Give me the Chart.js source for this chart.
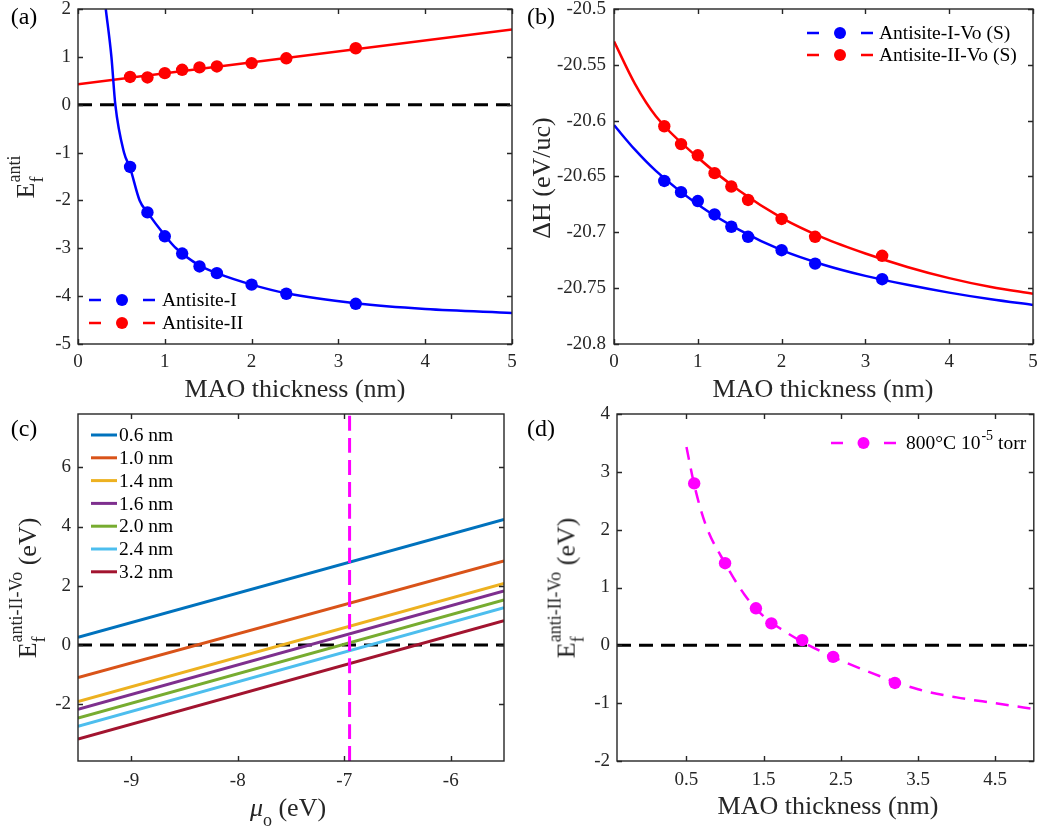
<!DOCTYPE html>
<html><head><meta charset="utf-8">
<script src="https://cdn.jsdelivr.net/npm/chart.js@4.4.0/dist/chart.umd.min.js"></script>
<style>
html,body{margin:0;padding:0;background:#fff;}
#wrap{position:relative;width:1040px;height:830px;overflow:hidden;background:#fff;}
canvas{position:absolute;left:0;top:0;}
.t{position:absolute;font-family:'Liberation Serif','Times New Roman',serif;color:#262626;white-space:nowrap;line-height:1;}
.yt{transform:translate(-50%,-50%) rotate(-90deg);font-size:26px;}
.xt{transform:translate(-50%,-50%);font-size:26px;}
.pl{font-size:24px;color:#000;transform:translate(-50%,-50%);}
.ss{display:inline-block;vertical-align:-0.5em;line-height:1.3;font-size:18px;}
.ss span{display:block;}
.mu{font-style:italic;}
.sb{font-size:18px;vertical-align:-0.55em;}
</style></head>
<body><div id="wrap">
<canvas id="ca" width="1040" height="830"></canvas>
<canvas id="cb" width="1040" height="830"></canvas>
<canvas id="cc" width="1040" height="830"></canvas>
<canvas id="cd" width="1040" height="830"></canvas>

<div class="t pl" style="left:24px;top:16px">(a)</div>
<div class="t pl" style="left:541px;top:16px">(b)</div>
<div class="t pl" style="left:24px;top:428px">(c)</div>
<div class="t pl" style="left:541px;top:428px">(d)</div>

<div class="t yt" style="left:26px;top:177px">E<span class="ss"><span>anti</span><span>f</span></span></div>
<div class="t yt" style="left:542px;top:178px">ΔH (eV/uc)</div>
<div class="t yt" style="left:28px;top:588px">E<span class="ss"><span>anti-II-Vo</span><span>f</span></span> (eV)</div>
<div class="t yt" style="left:567px;top:588px">E<span class="ss"><span>anti-II-Vo</span><span>f</span></span> (eV)</div>

<div class="t xt" style="left:295px;top:389px">MAO thickness (nm)</div>
<div class="t xt" style="left:823px;top:389px">MAO thickness (nm)</div>
<div class="t xt" style="left:288px;top:812px"><span class="mu">μ</span><span class="sb">o</span> (eV)</div>
<div class="t xt" style="left:828px;top:806px">MAO thickness (nm)</div>
</div>
<script>
// ---------------- data ----------------
const thickness = [0.6, 0.8, 1.0, 1.2, 1.4, 1.6, 2.0, 2.4, 3.2];
// panel (a)
const antisiteI  = [-1.30, -2.25, -2.75, -3.11, -3.38, -3.52, -3.76, -3.95, -4.16];
const antisiteII = [0.58, 0.57, 0.66, 0.73, 0.78, 0.80, 0.87, 0.97, 1.18];
const fitIx = [0.32, 0.385, 0.43, 0.53, 0.6, 0.71, 0.8, 1.0, 1.13, 1.4, 1.6, 2.0, 2.4, 3.2, 4.0, 5.0];
const fitIy = [2.0, 1.0, 0.0, -1.0, -1.32, -2.0, -2.25, -2.73, -3.0, -3.36, -3.52, -3.76, -3.94, -4.15, -4.27, -4.35];
const fitIIx = [0, 5];
const fitIIy = [0.43, 1.57];
// panel (b)
const dhI  = [-20.654, -20.664, -20.672, -20.684, -20.695, -20.704, -20.716, -20.728, -20.742];
const dhII = [-20.605, -20.621, -20.631, -20.647, -20.659, -20.671, -20.688, -20.704, -20.721];
const fitBx   = [0, 0.25, 0.5, 1, 1.5, 2, 2.5, 3, 3.5, 4, 4.5, 5];
const fitBIy  = [-20.604, -20.626, -20.645, -20.675, -20.698, -20.716, -20.729, -20.739, -20.747, -20.754, -20.760, -20.765];
const fitBIIy = [-20.529, -20.567, -20.596, -20.633, -20.663, -20.687, -20.705, -20.719, -20.731, -20.741, -20.749, -20.755];
// panel (c)
const muRange = [-9.5, -5.5];
const labelsC = ['0.6 nm', '1.0 nm', '1.4 nm', '1.6 nm', '2.0 nm', '2.4 nm', '3.2 nm'];
const efLeftC  = [0.26, -1.10, -1.91, -2.17, -2.47, -2.75, -3.18];
const efRightC = [4.24, 2.84, 2.08, 1.82, 1.52, 1.26, 0.82];
const colorsC = ['#0072BD', '#D95319', '#EDB120', '#7E2F8E', '#77AC30', '#4DBEEE', '#A2142F'];
const muO = -6.95;
// panel (d)
const thicknessD = [0.6, 1.0, 1.4, 1.6, 2.0, 2.4, 3.2];
const efD = [2.80, 1.42, 0.64, 0.38, 0.09, -0.20, -0.65];
const fitDx = [0.5, 0.6, 0.75, 1.0, 1.25, 1.5, 1.75, 2.0, 2.25, 2.5, 3.0, 3.5, 4.0, 4.5, 5.0];
const fitDy = [3.43, 2.78, 2.08, 1.42, 0.88, 0.50, 0.26, 0.06, -0.11, -0.26, -0.53, -0.76, -0.90, -1.00, -1.10];
// tick labels
const ticksAx = [0, 1, 2, 3, 4, 5];
const ticksAy = [-5, -4, -3, -2, -1, 0, 1, 2];
const ticksBy = [-20.8, -20.75, -20.7, -20.65, -20.6, -20.55, -20.5];
const ticksCx = [-9, -8, -7, -6];
const ticksCy = [-2, 0, 2, 4, 6];
const ticksDx = [0.5, 1.5, 2.5, 3.5, 4.5];
const ticksDy = [-2, -1, 0, 1, 2, 3, 4];
// legends
const legendA = ['Antisite-I', 'Antisite-II'];
const legendB = ['Antisite-I-Vo (S)', 'Antisite-II-Vo (S)'];
const legendD = [['800°C 10', {sup: '-5'}, ' torr']];

// ---------------- helpers ----------------
const F = "'Liberation Serif','Times New Roman',serif";
Chart.defaults.font.family = F;
const BLUE = '#0000FF', RED = '#FF0000', MAG = '#FF00FF';
const pts = (xs, ys) => xs.map((x, i) => ({x: x, y: ys[i]}));

function axis(min, max, ticks, fit, pad) {
  return {
    type: 'linear', min: min, max: max,
    grid: {display: false, drawTicks: false}, border: {display: false},
    ticks: {color: '#262626', font: {family: F, size: 19}, padding: pad, autoSkip: false, maxRotation: 0,
      callback: v => String(+(+v).toFixed(3))},
    afterBuildTicks: s => { s.ticks = ticks.map(v => ({value: v})); },
    afterFit: s => {
      if (s.isHorizontal()) s.height = fit; else s.width = fit;
      s.paddingLeft = 0; s.paddingRight = 0; s.paddingTop = 0; s.paddingBottom = 0;
    }
  };
}

const framePlugin = {
  id: 'frame',
  afterDraw(chart) {
    const ctx = chart.ctx, a = chart.chartArea, xs = chart.scales.x, ys = chart.scales.y;
    ctx.save();
    ctx.strokeStyle = '#262626'; ctx.lineWidth = 1.4; ctx.setLineDash([]);
    ctx.beginPath();
    const L = 5;
    xs.ticks.forEach(t => { const p = Math.round(xs.getPixelForValue(t.value)) + 0.5;
      ctx.moveTo(p, a.bottom); ctx.lineTo(p, a.bottom - L); ctx.moveTo(p, a.top); ctx.lineTo(p, a.top + L); });
    ys.ticks.forEach(t => { const p = Math.round(ys.getPixelForValue(t.value)) + 0.5;
      ctx.moveTo(a.left, p); ctx.lineTo(a.left + L, p); ctx.moveTo(a.right, p); ctx.lineTo(a.right - L, p); });
    ctx.stroke();
    ctx.strokeRect(a.left, a.top, a.right - a.left, a.bottom - a.top);
    ctx.restore();
  }
};

function makeLegend(cfg) {
  return {
    id: 'mlegend',
    afterDraw(chart) {
      const ctx = chart.ctx;
      ctx.save();
      cfg.items.forEach((it, i) => {
        const y = cfg.y + i * cfg.rowH, x0 = cfg.x, w = cfg.sampleW;
        ctx.strokeStyle = it.color; ctx.lineWidth = it.lw; ctx.setLineDash([]);
        ctx.beginPath();
        if (it.marker) {
          ctx.moveTo(x0, y); ctx.lineTo(x0 + cfg.dash, y);
          ctx.moveTo(x0 + w - cfg.dash, y); ctx.lineTo(x0 + w, y);
        } else { ctx.moveTo(x0, y); ctx.lineTo(x0 + w, y); }
        ctx.stroke();
        if (it.marker) {
          ctx.fillStyle = it.color; ctx.beginPath();
          ctx.arc(x0 + w / 2, y, 6, 0, 2 * Math.PI); ctx.fill();
        }
        let tx = x0 + w + cfg.gap;
        ctx.fillStyle = '#000'; ctx.textAlign = 'left'; ctx.textBaseline = 'middle';
        const segs = Array.isArray(it.text) ? it.text : [it.text];
        segs.forEach(sg => {
          if (typeof sg === 'string') {
            ctx.font = cfg.size + 'px ' + F; ctx.fillText(sg, tx, y + 1); tx += ctx.measureText(sg).width;
          } else {
            ctx.font = Math.round(cfg.size * 0.72) + 'px ' + F; ctx.fillText(sg.sup, tx + 1, y - 7); tx += ctx.measureText(sg.sup).width + 1;
          }
        });
      });
      ctx.restore();
    }
  };
}

function lineDs(xs, ys, color, width, dash, order) {
  return {type: 'scatter', data: pts(xs, ys), showLine: true, borderColor: color, backgroundColor: color,
    borderWidth: width, borderDash: dash || [], pointRadius: 0, pointHoverRadius: 0,
    cubicInterpolationMode: 'monotone', order: order};
}
function markDs(xs, ys, color, order) {
  return {type: 'scatter', data: pts(xs, ys), showLine: false, pointRadius: 6.2, pointHoverRadius: 6.2,
    pointBackgroundColor: color, pointBorderWidth: 0, backgroundColor: color, borderColor: color, order: order};
}
function make(id, datasets, pad, xAx, yAx, legend) {
  return new Chart(document.getElementById(id), {
    type: 'scatter',
    data: {datasets: datasets},
    options: {
      responsive: false, animation: false, events: [],
      layout: {padding: pad},
      plugins: {legend: {display: false}, tooltip: {enabled: false}},
      scales: {x: xAx, y: yAx}
    },
    plugins: [framePlugin, makeLegend(legend)]
  });
}

// ---------------- panel (a) ----------------
make('ca', [
  markDs(thickness, antisiteI, BLUE, 0),
  markDs(thickness, antisiteII, RED, 0),
  lineDs(fitIx, fitIy, BLUE, 2.5, [], 1),
  lineDs(fitIIx, fitIIy, RED, 2.5, [], 1),
  lineDs([0, 5], [0, 0], '#000', 3, [14, 8], 2)
], {left: 0, top: 9, right: 528, bottom: 430},
  axis(0, 5, ticksAx, 56, 7), axis(-5, 2, ticksAy, 78, 7),
  {x: 89, y: 300, rowH: 23, sampleW: 66, dash: 12, gap: 7, size: 19.5,
   items: [{text: legendA[0], color: BLUE, lw: 2.5, marker: true}, {text: legendA[1], color: RED, lw: 2.5, marker: true}]});

// ---------------- panel (b) ----------------
make('cb', [
  markDs(thickness, dhI, BLUE, 0),
  markDs(thickness, dhII, RED, 0),
  lineDs(fitBx, fitBIy, BLUE, 2.5, [], 1),
  lineDs(fitBx, fitBIIy, RED, 2.5, [], 1)
], {left: 520, top: 9, right: 7, bottom: 430},
  axis(0, 5, ticksAx, 56, 7), axis(-20.8, -20.5, ticksBy, 94, 8),
  {x: 807, y: 33, rowH: 22, sampleW: 66, dash: 12, gap: 6, size: 19.5,
   items: [{text: legendB[0], color: BLUE, lw: 2.5, marker: true}, {text: legendB[1], color: RED, lw: 2.5, marker: true}]});

// ---------------- panel (c) ----------------
const dsC = [lineDs([muO, muO], [-3.92, 7.8], MAG, 3, [15, 7], 0)];
labelsC.forEach((l, i) => dsC.push(lineDs(muRange, [efLeftC[i], efRightC[i]], colorsC[i], 3, [], 1)));
dsC.push(lineDs(muRange, [0, 0], '#000', 3, [14, 8], 2));
make('cc', dsC, {left: 0, top: 414, right: 536, bottom: 0},
  axis(-9.5, -5.5, ticksCx, 69, 9), axis(-3.92, 7.8, ticksCy, 78, 7),
  {x: 91, y: 435, rowH: 22.8, sampleW: 26, dash: 0, gap: 2, size: 19.5,
   items: labelsC.map((l, i) => ({text: l, color: colorsC[i], lw: 3, marker: false}))});

// ---------------- panel (d) ----------------
make('cd', [
  markDs(thicknessD, efD, MAG, 0),
  lineDs(fitDx, fitDy, MAG, 2.5, [13, 9], 1),
  lineDs([-0.4, 5], [0, 0], '#000', 3, [14, 8], 2)
], {left: 520, top: 414, right: 1, bottom: 0},
  axis(-0.4, 5, ticksDx, 69, 8), axis(-2, 4, ticksDy, 97, 7),
  {x: 831, y: 443, rowH: 22, sampleW: 65, dash: 12, gap: 10, size: 19.5,
   items: [{text: legendD[0], color: MAG, lw: 2.5, marker: true}]});
</script>
</body></html>
